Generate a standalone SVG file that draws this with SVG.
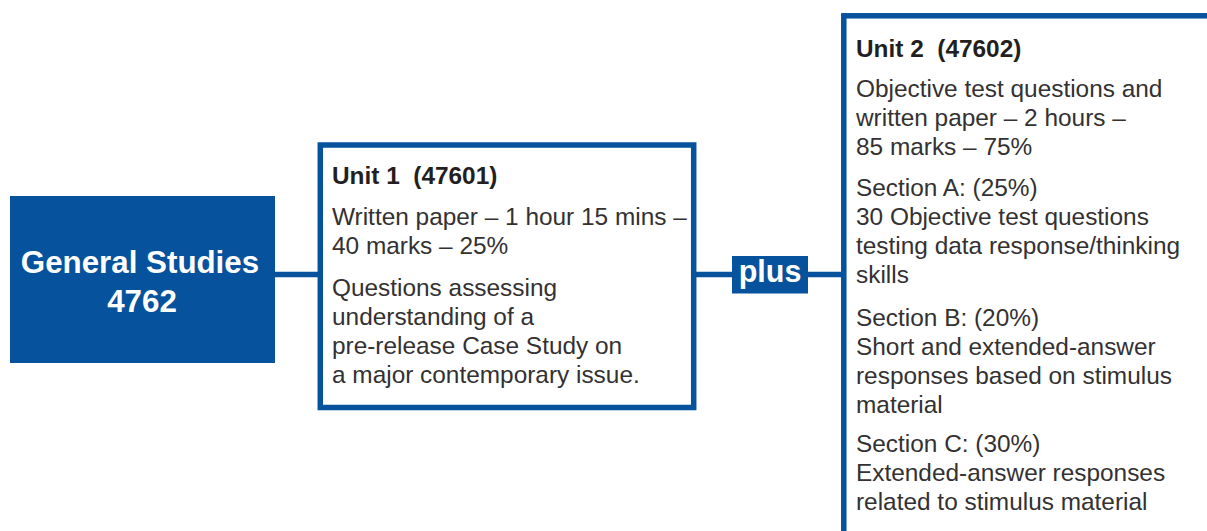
<svg xmlns="http://www.w3.org/2000/svg" width="1207" height="531" viewBox="0 0 1207 531">
<style>
.box{fill:#ffffff;stroke:#06529c;stroke-width:5.5}
.blue{fill:#06529c}
.wt{fill:#ffffff;font-family:"Liberation Sans",Arial,sans-serif;font-weight:bold;text-anchor:middle}
.ttl{fill:#231f20;font-family:"Liberation Sans",Arial,sans-serif;font-weight:bold;font-size:24.4px}
.bd{fill:#333132;font-family:"Liberation Sans",Arial,sans-serif;font-size:24.4px}
.conn{stroke:#06529c;stroke-width:5.5;fill:none}
</style>
<rect width="1207" height="531" fill="#ffffff"/>
<g id="connectors">
<line class="conn" x1="274" y1="274.5" x2="320" y2="274.5"/>
<line class="conn" x1="693" y1="274.5" x2="733" y2="274.5"/>
<line class="conn" x1="807" y1="274.5" x2="844" y2="274.5"/>
</g>
<g id="general-studies">
<rect class="blue" x="10" y="196" width="265" height="167"/>
<text class="wt" x="140" y="273" font-size="31.3">General Studies</text>
<text class="wt" x="142" y="311.5" font-size="31.3">4762</text>
</g>
<g id="unit1">
<rect class="box" x="320.3" y="145" width="373.4" height="262.5"/>
<text class="ttl" x="332" y="184" xml:space="preserve">Unit 1  (47601)</text>
<text class="bd" x="332" y="224.5">Written paper – 1 hour 15 mins –</text>
<text class="bd" x="332" y="253.5">40 marks – 25%</text>
<text class="bd" x="332" y="295.5">Questions assessing</text>
<text class="bd" x="332" y="324.5">understanding of a</text>
<text class="bd" x="332" y="353.5">pre-release Case Study on</text>
<text class="bd" x="332" y="382.5">a major contemporary issue.</text>
</g>
<g id="plus">
<rect class="blue" x="732" y="256" width="76" height="37.5"/>
<text class="wt" x="770" y="282" font-size="30.5">plus</text>
</g>
<g id="unit2">
<rect class="box" x="843.8" y="15.8" width="420" height="600"/>
<text class="ttl" x="856" y="56.5" xml:space="preserve">Unit 2  (47602)</text>
<text class="bd" x="856" y="97">Objective test questions and</text>
<text class="bd" x="856" y="126">written paper – 2 hours –</text>
<text class="bd" x="856" y="155">85 marks – 75%</text>
<text class="bd" x="856" y="196">Section A: (25%)</text>
<text class="bd" x="856" y="225">30 Objective test questions</text>
<text class="bd" x="856" y="254">testing data response/thinking</text>
<text class="bd" x="856" y="283">skills</text>
<text class="bd" x="856" y="325.5">Section B: (20%)</text>
<text class="bd" x="856" y="354.5">Short and extended-answer</text>
<text class="bd" x="856" y="383.5">responses based on stimulus</text>
<text class="bd" x="856" y="412.5">material</text>
<text class="bd" x="856" y="452">Section C: (30%)</text>
<text class="bd" x="856" y="481">Extended-answer responses</text>
<text class="bd" x="856" y="510">related to stimulus material</text>
</g>
</svg>
